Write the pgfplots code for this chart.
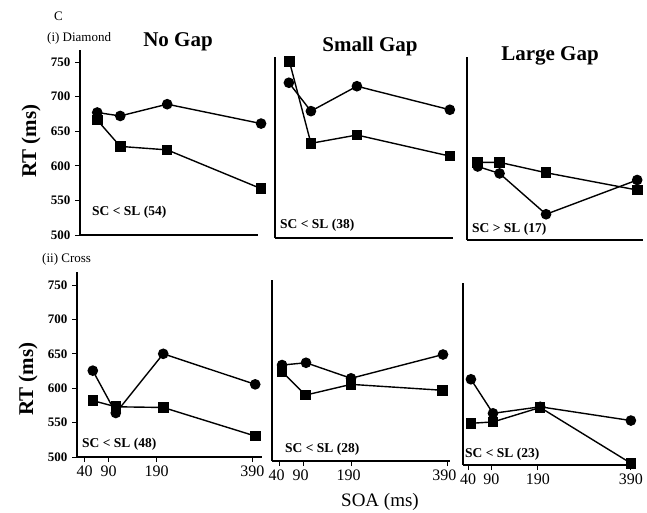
\documentclass[border=0pt]{standalone}
\usepackage{fontspec}
\setmainfont{Liberation Serif}
\usepackage{pgfplots}
\pgfplotsset{compat=1.18}

\pgfplotsset{
  panel/.style={
    scale only axis,
    anchor=south west,
    axis x line*=bottom, axis y line*=left,
    axis line style={-, line width=1.2pt, black},
    clip=false,
    xtick=\empty, ytick=\empty,
    tick align=outside,
    major tick length=5pt,
    tick style={line width=0.9pt, black},
    /pgf/number format/assume math mode=true,
  },
  circ/.style={black, line width=1.4pt, mark=*, mark size=4.6pt, mark options={fill=black, solid}},
  sq/.style={black, line width=1.4pt, mark=square*, mark size=4.6pt, mark options={fill=black, solid}},
  leftpanel/.style={ytick={500,550,...,750},
    yticklabel style={font=\bfseries\fontsize{13}{13}\selectfont, xshift=-1pt}},
  bottompanel/.style={xtick={40,90,190,390},
    xticklabel style={font=\fontsize{16}{16}\selectfont}},
}

\begin{document}
\begin{tikzpicture}
\useasboundingbox (0pt,0pt) rectangle (647pt,-512pt);

% ---------- Top row: (i) Diamond ----------
\begin{axis}[panel, leftpanel, at={(80pt,-235pt)}, width=178pt, height=185pt,
  xmin=24, xmax=395.6, ymin=500, ymax=767.3]
\addplot[circ] coordinates {(60,677) (108,672) (206,689) (402,661)};
\addplot[sq] coordinates {(60,666) (108,628) (206,623) (402,567)};
\end{axis}

\begin{axis}[panel, at={(275pt,-238pt)}, width=178pt, height=181pt,
  xmin=24, xmax=395.6, ymin=495.7, ymax=757.2]
\addplot[circ] coordinates {(53,720) (99,679) (195,715) (389,681)};
\addplot[sq] coordinates {(54,751) (99,632.5) (195,644.5) (389,614)};
\end{axis}

\begin{axis}[panel, at={(467pt,-240pt)}, width=176pt, height=183pt,
  xmin=29, xmax=407.5, ymin=492.8, ymax=757.2]
\addplot[circ] coordinates {(52,599) (99,589) (199,530) (395,579.5)};
\addplot[sq] coordinates {(52,605) (99,605) (199,590) (395,565)};
\end{axis}

% ---------- Bottom row: (ii) Cross ----------
\begin{axis}[panel, leftpanel, bottompanel, at={(77pt,-457pt)}, width=185pt, height=185pt,
  xmin=24, xmax=410.2, ymin=500, ymax=768.9]
\addplot[circ] coordinates {(57,625.5) (105,564) (204,650) (396,605.6)};
\addplot[sq] coordinates {(57,582) (105,573) (204,572) (396,530.5)};
\end{axis}

\begin{axis}[panel, bottompanel, at={(272pt,-461pt)}, width=178pt, height=181pt,
  xmin=24, xmax=395.6, ymin=494.2, ymax=757.3,
  xticklabel style={xshift=-3pt}]
\addplot[circ] coordinates {(45,633.7) (95,637) (189,614.4) (381,649)};
\addplot[sq] coordinates {(45,624) (94,590) (189,605.6) (380,597)};
\end{axis}

\begin{axis}[panel, bottompanel, at={(463pt,-465pt)}, width=172pt, height=182pt,
  xmin=29, xmax=398.9, ymin=488.4, ymax=752.9]
\addplot[circ] coordinates {(46,613) (93.5,563.5) (195,573) (390,553)};
\addplot[sq] coordinates {(46,549) (93.5,551) (195,572) (390,491)};
\end{axis}

% ---------- Texts ----------
\node[anchor=base west, inner sep=0pt, font=\fontsize{13}{13}\selectfont] at (54pt,-20pt) {C};
\node[anchor=base west, inner sep=0pt, font=\fontsize{13}{13}\selectfont] at (47pt,-41.5pt) {(i) Diamond};
\node[anchor=base west, inner sep=0pt, font=\fontsize{13}{13}\selectfont] at (42pt,-262.7pt) {(ii) Cross};

\node[anchor=base, inner sep=0pt, font=\bfseries\fontsize{21}{21}\selectfont] at (178pt,-46.7pt) {No Gap};
\node[anchor=base, inner sep=0pt, font=\bfseries\fontsize{21}{21}\selectfont] at (370pt,-51pt) {Small Gap};
\node[anchor=base, inner sep=0pt, font=\bfseries\fontsize{21}{21}\selectfont] at (550pt,-60pt) {Large Gap};

\node[rotate=90, inner sep=0pt, font=\bfseries\fontsize{21}{21}\selectfont] at (31pt,-141pt) {RT (ms)};
\node[rotate=90, inner sep=0pt, font=\bfseries\fontsize{21}{21}\selectfont] at (28pt,-379pt) {RT (ms)};

\node[anchor=base, inner sep=0pt, font=\fontsize{19}{19}\selectfont] at (380pt,-506.5pt) {SOA (ms)};

\node[anchor=base west, inner sep=0pt, font=\bfseries\fontsize{13.5}{13.5}\selectfont] at (92pt,-215pt) {SC < SL (54)};
\node[anchor=base west, inner sep=0pt, font=\bfseries\fontsize{13.5}{13.5}\selectfont] at (280pt,-228pt) {SC < SL (38)};
\node[anchor=base west, inner sep=0pt, font=\bfseries\fontsize{13.5}{13.5}\selectfont] at (472pt,-232pt) {SC > SL (17)};
\node[anchor=base west, inner sep=0pt, font=\bfseries\fontsize{13.5}{13.5}\selectfont] at (82pt,-447pt) {SC < SL (48)};
\node[anchor=base west, inner sep=0pt, font=\bfseries\fontsize{13.5}{13.5}\selectfont] at (285pt,-452pt) {SC < SL (28)};
\node[anchor=base west, inner sep=0pt, font=\bfseries\fontsize{13.5}{13.5}\selectfont] at (465pt,-457pt) {SC < SL (23)};
\end{tikzpicture}
\end{document}
